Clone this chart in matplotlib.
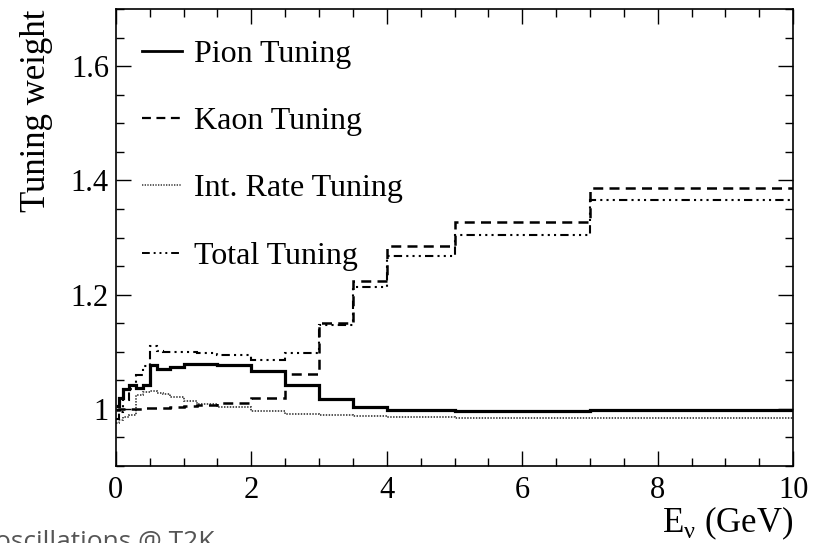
import matplotlib
matplotlib.use("Agg")
import matplotlib.pyplot as plt
from matplotlib.ticker import MultipleLocator, FuncFormatter
from matplotlib.lines import Line2D

# Bin edges in neutrino energy (GeV)
edges = [0, 0.05, 0.1, 0.2, 0.3, 0.4, 0.5, 0.6, 0.7, 0.8, 1.0, 1.2, 1.5,
         2.0, 2.5, 3.0, 3.5, 4.0, 5.0, 7.0, 10.0]

# Tuning weights, one value per bin
pion = [1.005, 1.019, 1.035, 1.041, 1.037, 1.042, 1.076, 1.069, 1.069, 1.074,
        1.079, 1.078, 1.076, 1.066, 1.041, 1.017, 1.003, 0.998, 0.996, 0.998]
kaon = [0.998, 0.999, 1.000, 1.000, 1.000, 1.001, 1.002, 1.002, 1.002, 1.003,
        1.005, 1.007, 1.010, 1.019, 1.061, 1.150, 1.224, 1.286, 1.328, 1.386]
intrate = [0.975, 0.980, 0.985, 0.990, 1.025, 1.029, 1.031, 1.028, 1.026, 1.021,
           1.013, 1.008, 1.004, 0.996, 0.991, 0.990, 0.988, 0.986, 0.984, 0.984]
total = [0.982, 0.995, 1.015, 1.035, 1.060, 1.075, 1.110, 1.101, 1.100, 1.100,
         1.099, 1.098, 1.095, 1.085, 1.098, 1.147, 1.214, 1.267, 1.305, 1.366]

labels = ["Pion Tuning", "Kaon Tuning", "Int. Rate Tuning", "Total Tuning"]

serif = "Liberation Serif"

fig = plt.figure(figsize=(8.16, 5.43), dpi=100)
ax = fig.add_axes([0.142, 0.142, 0.830, 0.841])

dash_kaon = (0, (4, 2.5))
dash_total = (0, (4, 2, 1, 2, 1, 2, 1, 2))
dot_int = (0, (0.8, 0.8))

ax.stairs(intrate, edges, baseline=None, color="#444444", lw=1.3, linestyle=dot_int)
ax.stairs(kaon, edges, baseline=None, color="black", lw=1.8, linestyle=dash_kaon)
ax.stairs(total, edges, baseline=None, color="black", lw=1.5, linestyle=dash_total)
ax.stairs(pion, edges, baseline=None, color="black", lw=2.3, linestyle="-")

ax.set_xlim(0, 10)
ax.set_ylim(0.9, 1.7)

# ROOT-like ticks: inward, on all four sides
ax.xaxis.set_major_locator(MultipleLocator(2))
ax.xaxis.set_minor_locator(MultipleLocator(0.5))
ax.yaxis.set_major_locator(MultipleLocator(0.2))
ax.yaxis.set_minor_locator(MultipleLocator(0.05))
ax.yaxis.set_major_formatter(FuncFormatter(lambda v, p: "%g" % round(v, 2)))
ax.tick_params(which="both", direction="in", top=True, right=True, width=1)
ax.tick_params(which="major", length=11)
ax.tick_params(which="minor", length=6)
ax.tick_params(axis="x", which="major", pad=7)
ax.tick_params(axis="y", which="major", pad=5)
for lab in ax.get_xticklabels() + ax.get_yticklabels():
    lab.set_fontfamily(serif)
    lab.set_fontsize(22)
for sp in ax.spines.values():
    sp.set_linewidth(1.2)

ax.set_ylabel("Tuning weight", family=serif, fontsize=25, loc="top", labelpad=13)
ax.set_xlabel(r"E$_\mathregular{\nu}$ (GeV)", family=serif, fontsize=25, loc="right", labelpad=0)

handles = [
    Line2D([], [], color="black", lw=2.0, linestyle="-"),
    Line2D([], [], color="black", lw=1.6, linestyle=dash_kaon),
    Line2D([], [], color="#444444", lw=1.2, linestyle=dot_int),
    Line2D([], [], color="black", lw=1.4, linestyle=dash_total),
]
ax.legend(handles, labels, loc="upper left", frameon=False,
          prop={"family": serif, "size": 23}, handlelength=1.25,
          handletextpad=0.4, labelspacing=1.19, borderpad=0,
          borderaxespad=0, bbox_to_anchor=(0.038, 0.934))

fig.text(-0.006, -0.022, "oscillations @ T2K", family="Open Sans",
         fontsize=19, color="#555555", ha="left", va="bottom")

fig.savefig("out.png", dpi=100)
